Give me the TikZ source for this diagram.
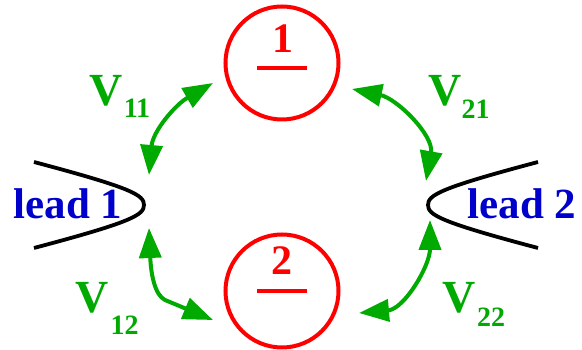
\documentclass[tikz,border=0pt]{standalone}
\usepackage{fontspec}
\setmainfont{Liberation Serif}
\usetikzlibrary{arrows.meta}
\definecolor{vgreen}{RGB}{0,170,0}
\definecolor{lblue}{RGB}{0,0,204}
\begin{document}
\begin{tikzpicture}[x=1pt,y=1pt,
  dot/.style={circle,draw=red,line width=4pt,minimum size=113pt,inner sep=0pt},
  digit/.style={text=red,font=\fontsize{42}{42}\selectfont\bfseries,inner sep=0pt,anchor=base},
  uline/.style={draw=red,line width=4pt},
  leadline/.style={draw=black,line width=3.8pt},
  leadtext/.style={text=lblue,font=\fontsize{43}{43}\selectfont\bfseries,inner sep=0pt,anchor=base},
  vtext/.style={text=vgreen,font=\fontsize{46}{46}\selectfont\bfseries,inner sep=0pt,anchor=base},
  vsub/.style={text=vgreen,font=\fontsize{28}{28}\selectfont\bfseries,inner sep=0pt,anchor=base},
  coupling/.style={draw=vgreen,line width=4pt,{Triangle[length=30pt,width=22pt]}-{Triangle[length=30pt,width=22pt]}}
]
\useasboundingbox (0,0) rectangle (582,350);

% dots
\node[dot] (c1) at (282,287) {};
\node[dot] (c2) at (282,59) {};
\node[digit] (d1) at (283,297) {1};
\node[digit] (d2) at (282,75) {2};
\draw[uline] (257,282) -- (307,282);
\draw[uline] (257,59) -- (307,59);

% leads
\draw[leadline] (34,188) .. controls (132,162) and (144,155) .. (144,145)
                .. controls (144,135) and (132,128) .. (34,102);
\draw[leadline] (538,188) .. controls (440,162) and (428,155) .. (428,145)
                .. controls (428,135) and (440,128) .. (538,102);
\node[leadtext] (l1) at (68,131) {lead 1};
\node[leadtext] (l2) at (522,131) {lead 2};

% coupling arrow ends
\coordinate (a11l) at (149,175);
\coordinate (a11d) at (213,267);
\coordinate (a21d) at (352,261);
\coordinate (a21l) at (426,169);
\coordinate (a12l) at (149,122);
\coordinate (a12k) at (165,50);
\coordinate (a12d) at (213,30);
\coordinate (a22l) at (430,130);
\coordinate (a22d) at (359,37);

\draw[coupling] (a11l) to[out=85,in=210] (a11d);
\draw[coupling] (a21d) to[out=-12,in=80] (a21l);
\draw[coupling] (a12l) .. controls (151,75) and (155,55) .. (a12k) -- (a12d);
\draw[coupling] (a22l) to[out=-90,in=5] (a22d);

% labels
\node[vtext] (v11) at (106.5,244) {V};
\node[vsub] (s11) at (137,232) {11};
\node[vtext] (v21) at (445.5,244) {V};
\node[vsub] (s21) at (475.5,231) {21};
\node[vtext] (v12) at (92,37) {V};
\node[vsub] (s12) at (124.5,15) {12};
\node[vtext] (v22) at (459,37) {V};
\node[vsub] (s22) at (491,23) {22};
\end{tikzpicture}
\end{document}
